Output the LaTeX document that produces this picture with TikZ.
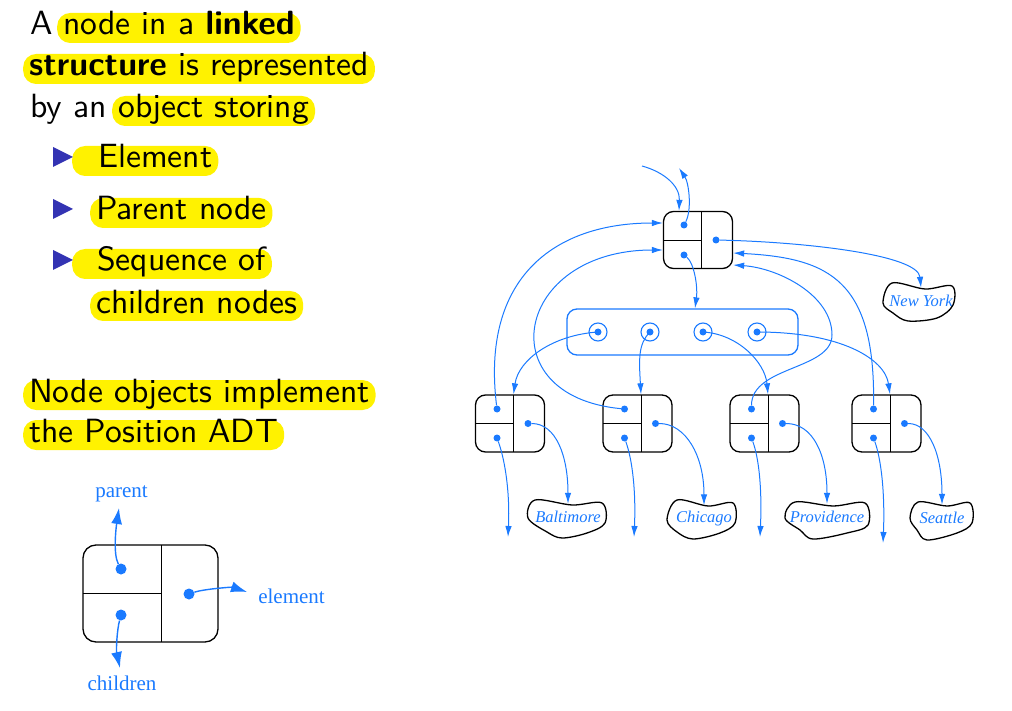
\documentclass[tikz,border=0pt]{standalone}
\usepackage{fontspec}
\usepackage{tikz}
\usetikzlibrary{arrows.meta}
\newfontfamily\cityfont{Liberation Serif}
\newfontfamily\slidefont{lmsans10}[Extension=.otf,UprightFont=*-regular,BoldFont=*-bold]
\definecolor{linkblue}{RGB}{26,122,255}
\definecolor{bulletblue}{RGB}{51,51,179}

\begin{document}
\begin{tikzpicture}[x=1pt,y=-1pt,
  txt/.style={anchor=base west,inner sep=0pt,font=\slidefont\fontsize{33.6}{38}\selectfont},
  hl/.style={txt,fill=yellow,rounded corners=13pt,inner xsep=6pt,text height=22pt,text depth=8pt},
  posbox/.style={draw,line width=1.3pt,rounded corners=10pt,minimum width=69pt,minimum height=57pt,inner sep=0pt,
    path picture={\draw[line width=0.9pt] ([xshift=#1]path picture bounding box.north) -- ([xshift=#1]path picture bounding box.south) (path picture bounding box.west) -- ([xshift=#1]path picture bounding box.center);}},
  posbox/.default=3.5pt,
  dot/.style={circle,fill=linkblue,inner sep=0pt,minimum size=7pt},
  bigdot/.style={dot,minimum size=11pt},
  ring/.style={circle,draw=linkblue,line width=1.1pt,minimum size=18pt,inner sep=0pt,
    path picture={\fill[linkblue] (path picture bounding box.center) circle (3.5pt);}},
  seqbox/.style={draw=linkblue,line width=1.3pt,rounded corners=10pt,minimum width=231pt,minimum height=46pt,inner sep=0pt},
  link/.style={linkblue,line width=1pt,-{Latex[length=11pt,width=6.5pt]}},
  biglink/.style={linkblue,line width=1.4pt,-{Latex[length=16pt,width=11pt]}},
  city/.style={font=\cityfont\itshape\fontsize{16.5}{18}\selectfont,text=linkblue,inner sep=0pt,minimum height=26pt},
  blob/.style={line width=1.3pt},
  lbl/.style={font=\cityfont\fontsize{21}{24}\selectfont,text=linkblue,anchor=base,inner sep=0pt}]
\useasboundingbox (0,0) rectangle (1012,711);
\node[txt] (l1a) at (30,35) {A};
\node[hl] (l1b) at (57,35) {node in a \textbf{linked}};
\node[hl] (l2) at (23,76) {\textbf{structure} is represented};
\node[txt] (l3a) at (30,118) {by an};
\node[hl] (l3b) at (112,118) {object storing};
\node[hl] (i1) at (72,168) {\hspace{20pt}Element};
\node[hl] (i2) at (90,220) {Parent node};
\node[hl] (i3) at (72,271) {\hspace{19pt}Sequence of};
\node[hl] (i4) at (90,313) {children nodes};
\node[hl] (n1) at (23,402) {Node objects implement};
\node[hl] (n2) at (23,442) {the Position ADT};
\fill[bulletblue] (53,147) -- (73,157) -- (53,167) -- cycle;
\fill[bulletblue] (53,199) -- (73,209) -- (53,219) -- cycle;
\fill[bulletblue] (53,250) -- (73,260) -- (53,270) -- cycle;

\node[posbox=10.5pt,minimum width=135pt,minimum height=97pt,rounded corners=13pt] (L) at (150.5,593.5) {};
\node[bigdot] (Lp) at (121,569) {};
\node[bigdot] (Lc) at (121,615) {};
\node[bigdot] (Le) at (189,594) {};
\node[lbl] (par) at (121.5,497) {parent};
\node[lbl] (elt) at (291.5,603) {element};
\node[lbl] (chi) at (122,690) {children};
\coordinate (Lpt) at (119,508);
\coordinate (Lct) at (120,668);
\coordinate (Let) at (247,592);
\draw[biglink] (Lp) .. controls +(-8,-15) and +(-3,20) .. (Lpt);
\draw[biglink] (Lc) .. controls +(-4,15) and +(-4,-18) .. (Lct);
\draw[biglink] (Le) .. controls +(15,-5) and +(-15,-5) .. (Let);

\node[posbox] (R) at (698,240) {};
\node[dot] (Rp) at (684,225) {};
\node[dot] (Rc) at (684,255) {};
\node[dot] (Re) at (716,240) {};
\node[seqbox] (S) at (682.5,332) {};
\node[ring] (s1) at (598,332) {};
\node[ring] (s2) at (650,332) {};
\node[ring] (s3) at (703,332) {};
\node[ring] (s4) at (757,332) {};
\node[posbox] (C1) at (510,423.5) {};
\node[dot] (C1p) at (497,409) {};
\node[dot] (C1c) at (497,438) {};
\node[dot] (C1e) at (528,423.5) {};
\node[posbox] (C2) at (637.5,423.5) {};
\node[dot] (C2p) at (624.5,409) {};
\node[dot] (C2c) at (624.5,438) {};
\node[dot] (C2e) at (655.5,423.5) {};
\node[posbox] (C3) at (764.5,423.5) {};
\node[dot] (C3p) at (751.5,409) {};
\node[dot] (C3c) at (751.5,438) {};
\node[dot] (C3e) at (782.5,423.5) {};
\node[posbox] (C4) at (886.5,423.5) {};
\node[dot] (C4p) at (873.5,409) {};
\node[dot] (C4c) at (873.5,438) {};
\node[dot] (C4e) at (904.5,423.5) {};

\node[city] (NY) at (921,301) {New York};
\node[city] (Bal) at (568,517) {Baltimore};
\node[city] (Chi) at (704,518.5) {Chicago};
\node[city] (Prov) at (827,517) {Providence};
\node[city] (Sea) at (942,518) {Seattle};
\draw[blob,shift={(NY.center)}] plot[smooth cycle,tension=.55] coordinates {(-29,-18) (4,-12) (31,-15) (32,4) (16,17) (-13,20) (-28,12) (-38,2)};
\draw[blob,shift={(Bal.center)}] plot[smooth cycle,tension=.55] coordinates {(-33,-17) (4,-12) (34,-14) (37,6) (19,16) (-6,21) (-21,15) (-40,1)};
\draw[blob,shift={(Chi.center)}] plot[smooth cycle,tension=.55] coordinates {(-27,-18.5) (4,-12.5) (29,-15.5) (31,4.5) (16,14.5) (-11,20.5) (-27,13.5) (-37,1.5)};
\draw[blob,shift={(Prov.center)}] plot[smooth cycle,tension=.55] coordinates {(-32,-15) (6,-11) (38,-14) (41,8) (20,16) (-14,22) (-27,13) (-42,1)};
\draw[blob,shift={(Sea.center)}] plot[smooth cycle,tension=.55] coordinates {(-24,-16) (5,-12) (28,-15) (30,5) (15,15) (-15,22) (-25,12) (-32,0)};

\coordinate (Rin) at (642,166);
\coordinate (Rout) at (679,168);
\coordinate (C1d) at (508,537);
\coordinate (C2d) at (634,537);
\coordinate (C3d) at (760,537);
\coordinate (C4d) at (883,543);
\draw[link] (Rin) .. controls +(22,6) and +(1,-25) .. ([xshift=-19pt]R.north);
\draw[link] (Rp) .. controls +(8,-15) and +(10,15) .. (Rout);
\draw[link] (Re) .. controls +(90,2) and +(-3,-33) .. (NY.north);
\draw[link] (Rc) .. controls +(10,8) and +(3,-22) .. ([xshift=12.5pt]S.north);
\draw[link] (s1.center) .. controls +(-45,3) and +(5,-35) .. ([xshift=3.5pt]C1.north);
\draw[link] (s2.center) .. controls +(-12,12) and +(-2,-35) .. ([xshift=3.5pt]C2.north);
\draw[link] (s3.center) .. controls +(35,2) and +(-3,-32) .. ([xshift=3.5pt]C3.north);
\draw[link] (s4.center) .. controls +(85,0) and +(-5,-35) .. ([xshift=3.5pt]C4.north);
\draw[link] (C1p) .. controls +(-16,-130) and +(-110,0) .. ([yshift=17pt]R.west);
\draw[link] (C2p) .. controls +(-137,-13) and +(-148,0) .. ([yshift=-10pt]R.west);
\draw[link] (C3p) .. controls +(0,-43) and +(0,35) .. ++(80.5,-74) .. controls +(0,-40) and +(45,3) .. ([yshift=-25pt]R.east);
\draw[link] (C4p) .. controls +(2,-128) and +(97,5) .. ([yshift=-13pt]R.east);
\draw[link] (C1c) .. controls +(8,22) and +(2,-45) .. (C1d);
\draw[link] (C2c) .. controls +(8,22) and +(2,-45) .. (C2d);
\draw[link] (C3c) .. controls +(8,22) and +(2,-45) .. (C3d);
\draw[link] (C4c) .. controls +(8,22) and +(2,-48) .. (C4d);
\draw[link] (C1e) .. controls +(28,0) and +(0,-48) .. (Bal.north);
\draw[link] (C2e) .. controls +(30,0) and +(0,-50) .. (Chi.north);
\draw[link] (C3e) .. controls +(30,0) and +(0,-50) .. (Prov.north);
\draw[link] (C4e) .. controls +(25,0) and +(0,-50) .. (Sea.north);
\end{tikzpicture}
\end{document}
